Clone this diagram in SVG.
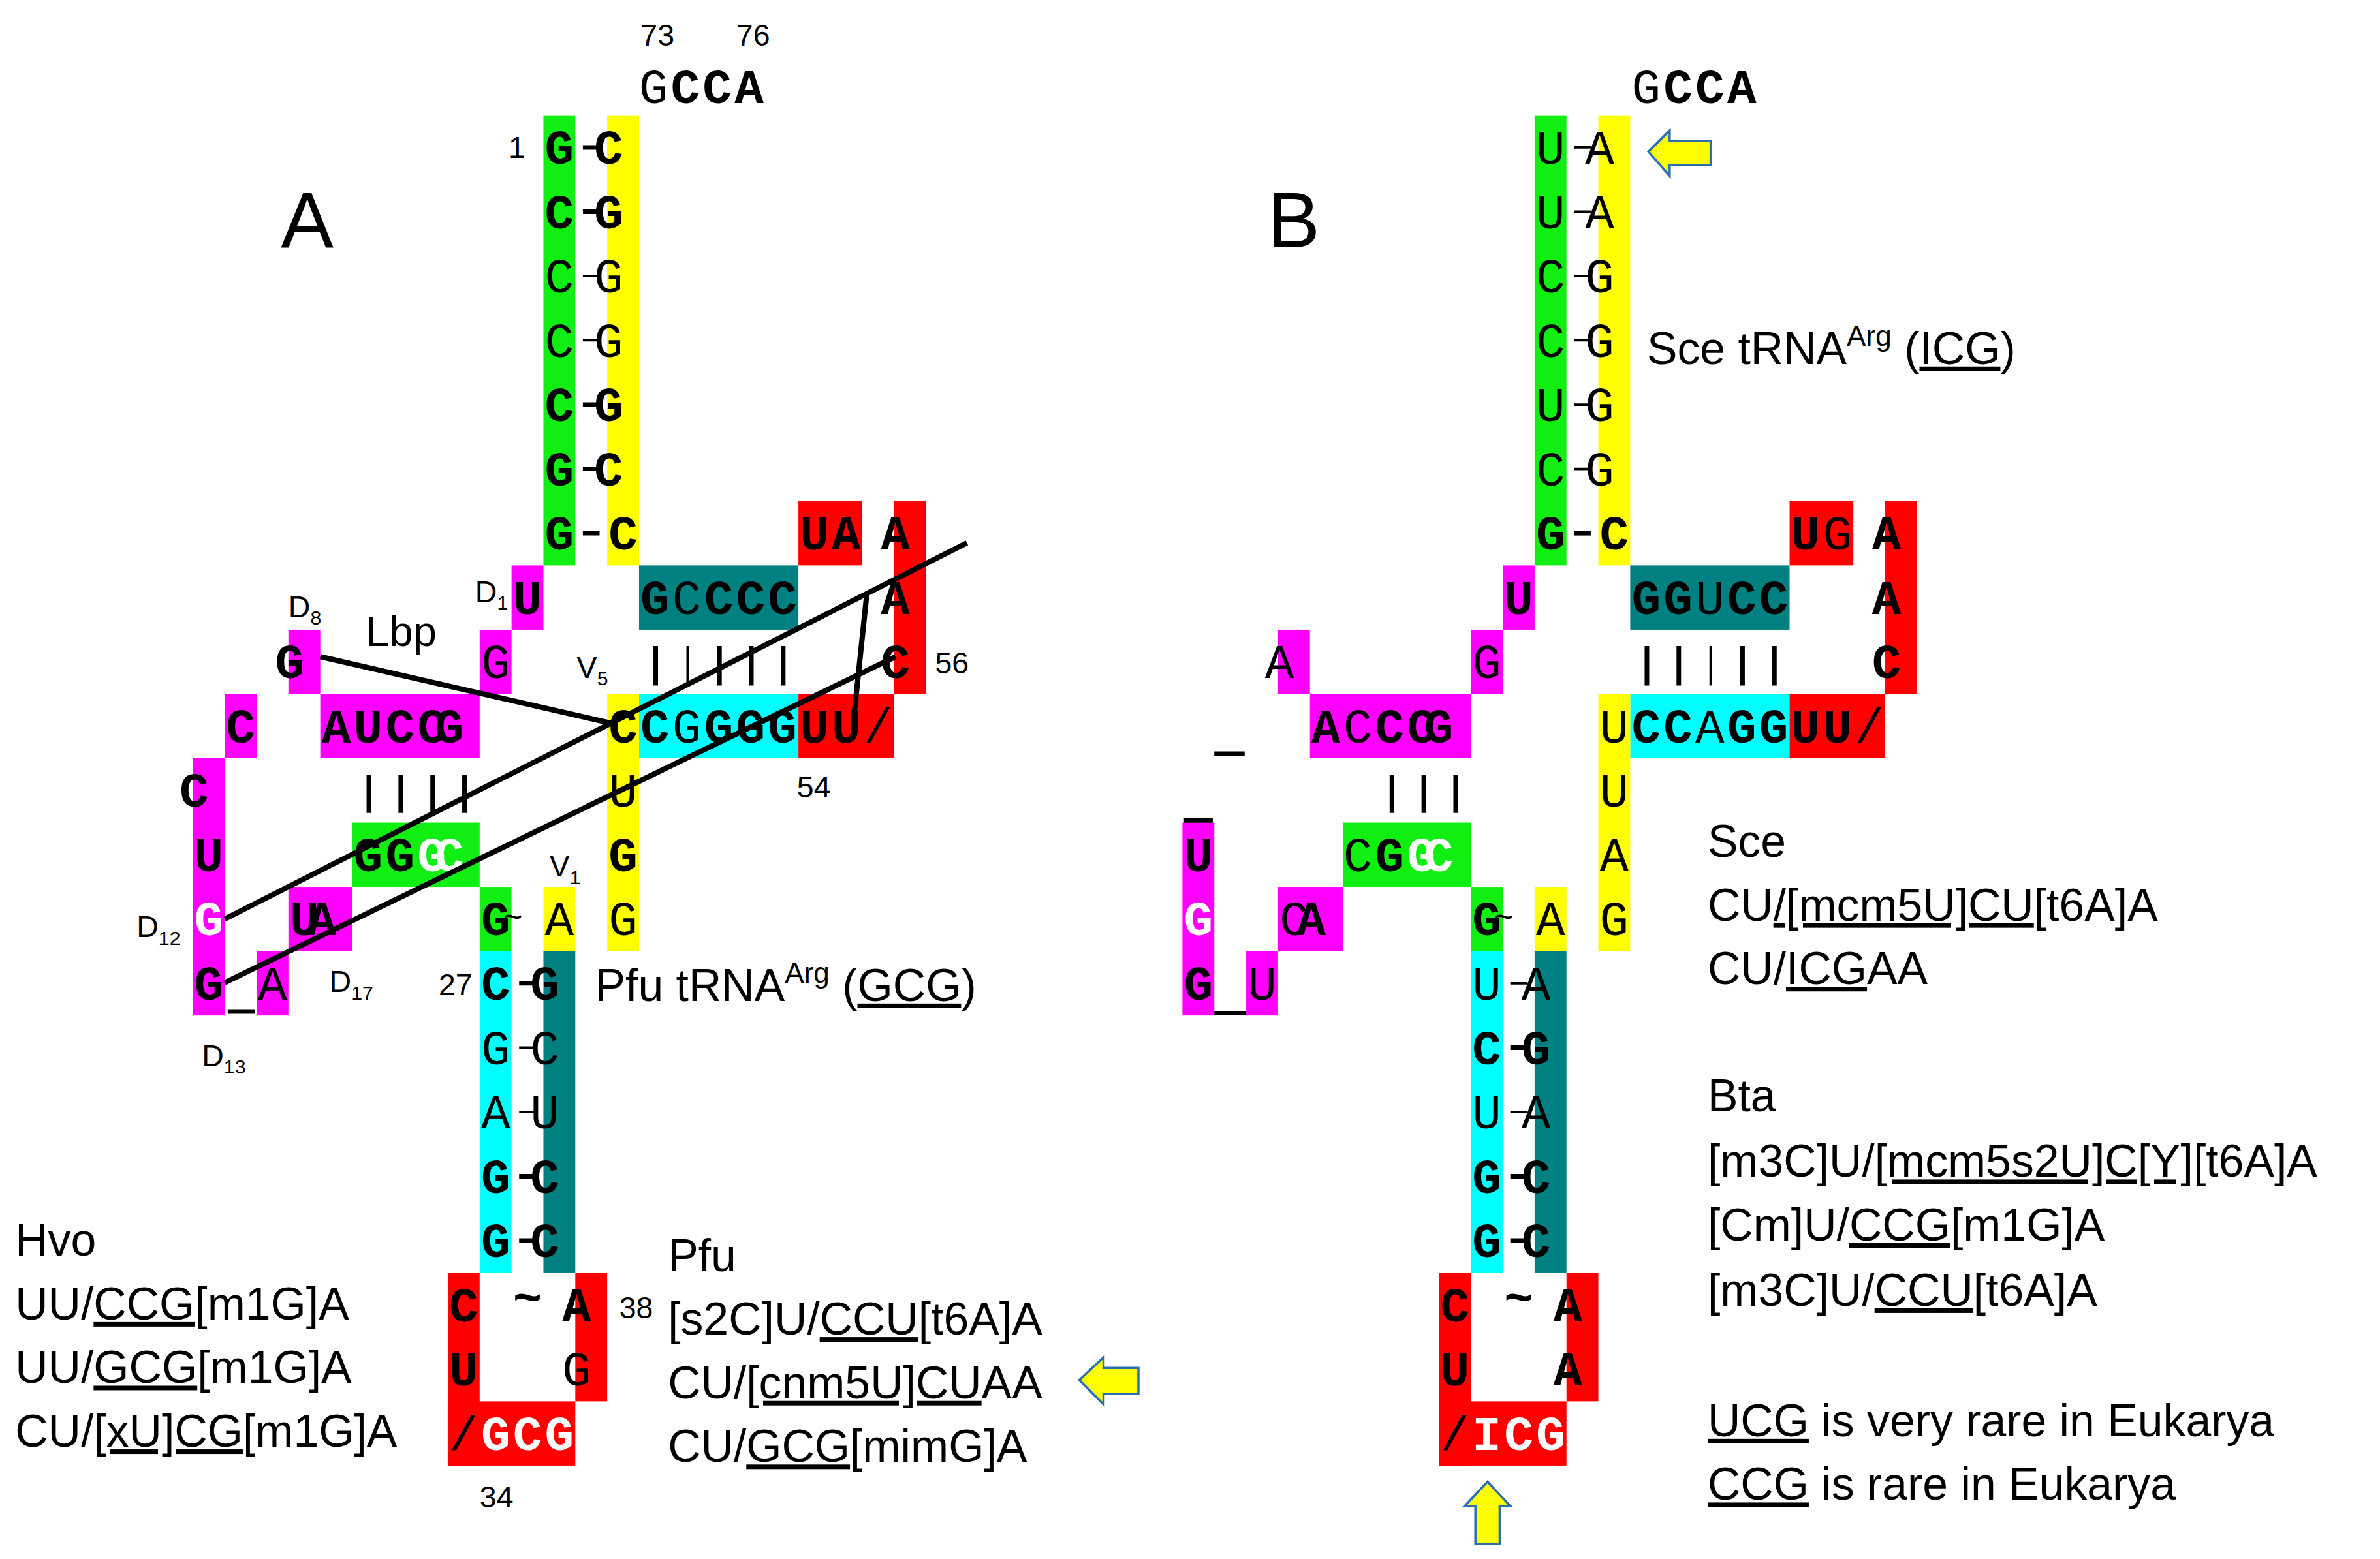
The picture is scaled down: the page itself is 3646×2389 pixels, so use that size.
<svg xmlns="http://www.w3.org/2000/svg" width="3646" height="2389" viewBox="0 0 3646 2389">
<style>
.m{font-family:"Liberation Mono","DejaVu Sans Mono",monospace;font-size:32px;text-anchor:middle}
.b{font-weight:bold;fill:#000}.t{font-weight:normal;fill:#000}.w{font-weight:bold;fill:#fff}
.s{font-family:"Liberation Sans Narrow","Liberation Sans",sans-serif;font-size:20px;fill:#000}
.sub{font-size:13px}
.L{font-family:"Liberation Sans",sans-serif;font-size:30px;fill:#000}
.u{text-decoration:underline}
.g{fill:#11ee11}.y{fill:#ffff00}.mg{fill:#ff00ff}.c{fill:#00ffff}.tl{fill:#008080}.r{fill:#ff0000}
.ln{stroke:#000;stroke-width:3.5;fill:none}
.d{stroke:#000;stroke-width:3}.dt{stroke:#000;stroke-width:1.6}
.arr{fill:#ffff00;stroke:#2a6fb0;stroke-width:1.5}
</style>
<rect width="3646" height="2389" fill="#fff"/>
<g transform="scale(2.3253,2.324)">
<g id="panelA">
<text x="185" y="163" class="L" style="font-size:52px">A</text>
<text class="s" x="422" y="30">73</text><text class="s" x="485" y="30">76</text>
<text class="m" y="68"><tspan class="t" x="430.5">G</tspan><tspan class="b" x="451.5">C</tspan><tspan class="b" x="472.5">C</tspan><tspan class="b" x="493.5">A</tspan></text>
<g id="A_acceptor">
<rect class="g" x="358" y="76" width="21" height="296.8"/><rect class="y" x="400" y="76" width="21" height="296.8"/>
<text class="s" x="335" y="104">1</text>
<text class="m"><tspan class="b" x="368.5" y="108">G</tspan><tspan class="b" x="410.5" y="108">C</tspan>
<tspan class="b" x="368.5" y="150.4">C</tspan><tspan class="b" x="410.5" y="150.4">G</tspan>
<tspan class="t" x="368.5" y="192.8">C</tspan><tspan class="t" x="410.5" y="192.8">G</tspan>
<tspan class="t" x="368.5" y="235.2">C</tspan><tspan class="t" x="410.5" y="235.2">G</tspan>
<tspan class="b" x="368.5" y="277.6">C</tspan><tspan class="b" x="410.5" y="277.6">G</tspan>
<tspan class="b" x="368.5" y="320">G</tspan><tspan class="b" x="410.5" y="320">C</tspan>
<tspan class="b" x="368.5" y="362.4">G</tspan><tspan class="b" x="410.5" y="362.4">C</tspan></text>
<path class="d" d="M384 97.2H395M384 139.6H395M384 266.8H395M384 309.2H395M384 351.6H395"/>
<path class="dt" d="M384 182H395M384 224.4H395"/>
</g>
<g id="A_Tarm">
<rect class="tl" x="421" y="372.8" width="105" height="42.4"/>
<rect class="c" x="421" y="457.6" width="105" height="42.4"/>
<rect class="r" x="526" y="330.4" width="42" height="42.4"/>
<rect class="r" x="589" y="330.4" width="21" height="127.2"/>
<rect class="r" x="526" y="457.6" width="63" height="42.4"/>
<text class="m"><tspan class="b" x="536.5" y="362.4">U</tspan><tspan class="b" x="557.5" y="362.4">A</tspan><tspan class="b" x="599.5" y="362.4">A</tspan>
<tspan class="b" x="431.5" y="404.8">G</tspan><tspan class="t" x="452.5" y="404.8">C</tspan><tspan class="b" x="473.5" y="404.8">C</tspan><tspan class="b" x="494.5" y="404.8">C</tspan><tspan class="b" x="515.5" y="404.8">C</tspan><tspan class="b" x="599.5" y="404.8">A</tspan>
<tspan class="b" x="599.5" y="447.2">C</tspan>
<tspan class="b" x="431.5" y="489.6">C</tspan><tspan class="t" x="452.5" y="489.6">G</tspan><tspan class="b" x="473.5" y="489.6">G</tspan><tspan class="b" x="494.5" y="489.6">G</tspan><tspan class="b" x="515.5" y="489.6">G</tspan><tspan class="b" x="536.5" y="489.6">U</tspan><tspan class="b" x="557.5" y="489.6">U</tspan><tspan class="t" x="578.5" y="489.6">/</tspan></text>
<path class="d" d="M432 426V452M474 426V452M495 426V452M516 426V452"/><path class="dt" d="M453 426V452"/>
<text class="s" x="616" y="444">56</text><text class="s" x="525" y="526">54</text>
</g>
<g id="A_Darm">
<rect class="mg" x="337" y="372.8" width="21" height="42.4"/>
<rect class="mg" x="316" y="415.2" width="21" height="42.4"/>
<rect class="mg" x="190" y="415.2" width="21" height="42.4"/>
<rect class="mg" x="148" y="457.6" width="21" height="42.4"/>
<rect class="mg" x="211" y="457.6" width="105" height="42.4"/>
<rect class="mg" x="127" y="500" width="21" height="169.6"/>
<rect class="g" x="232" y="542.4" width="84" height="42.4"/>
<rect class="mg" x="190" y="584.8" width="42" height="42.4"/>
<rect class="mg" x="169" y="627.2" width="21" height="42.4"/>
<text class="m"><tspan class="b" x="347.5" y="404.8">U</tspan><tspan class="t" x="326.5" y="447.2">G</tspan><tspan class="b" x="200.5" y="447.2">G</tspan>
<tspan class="b" x="158.5" y="489.6">C</tspan><tspan class="b" x="221.5" y="489.6">A</tspan><tspan class="b" x="242.5" y="489.6">U</tspan><tspan class="b" x="263.5" y="489.6">C</tspan><tspan class="b" x="284.5" y="489.6">C</tspan><tspan class="b" x="305.5" y="489.6">G</tspan>
<tspan class="b" x="137.5" y="532">C</tspan>
<tspan class="b" x="137.5" y="574.4">U</tspan><tspan class="b" x="242.5" y="574.4">G</tspan><tspan class="b" x="263.5" y="574.4">G</tspan><tspan class="w" x="284.5" y="574.4">G</tspan><tspan class="w" x="305.5" y="574.4">C</tspan>
<tspan class="w" x="137.5" y="616.8">G</tspan><tspan class="b" x="200.5" y="616.8">U</tspan><tspan class="b" x="221.5" y="616.8">A</tspan>
<tspan class="b" x="137.5" y="659.2">G</tspan><tspan class="t" x="179.5" y="659.2">A</tspan></text>
<path class="d" d="M243 511V536M264 511V536M285 511V536M306 511V536M150 667H168"/>
<text class="s" x="313" y="397">D<tspan class="sub" dy="5">1</tspan></text>
<text class="s" x="190" y="407">D<tspan class="sub" dy="5">8</tspan></text>
<text class="L" x="241" y="426" style="font-size:28px">Lbp</text>
<text class="s" x="90" y="618">D<tspan class="sub" dy="5">12</tspan></text>
<text class="s" x="217" y="654">D<tspan class="sub" dy="5">17</tspan></text>
<text class="s" x="133" y="703">D<tspan class="sub" dy="5">13</tspan></text>
</g>
<g id="A_Varm">
<rect class="y" x="400" y="457.6" width="21" height="169.6"/>
<rect class="y" x="358" y="584.8" width="21" height="42.4"/>
<text class="m"><tspan class="b" x="410.5" y="489.6">C</tspan><tspan class="t" x="410.5" y="532">U</tspan><tspan class="b" x="410.5" y="574.4">G</tspan><tspan class="t" x="410.5" y="616.8">G</tspan><tspan class="t" x="368.5" y="616.8">A</tspan></text>
<text class="s" x="380" y="447">V<tspan class="sub" dy="5">5</tspan></text>
<text class="s" x="362" y="578">V<tspan class="sub" dy="5">1</tspan></text>
</g>
<g id="A_anticodon">
<rect class="g" x="316" y="584.8" width="21" height="42.4"/>
<rect class="c" x="316" y="627.2" width="21" height="212"/>
<rect class="tl" x="358" y="627.2" width="21" height="212"/>
<rect class="r" x="295" y="839.2" width="21" height="127.2"/>
<rect class="r" x="295" y="924" width="84" height="42.4"/>
<rect class="r" x="379" y="839.2" width="21" height="84.8"/>
<text class="m"><tspan class="b" x="326.5" y="616.8">G</tspan><tspan class="t" x="347.5" y="612" style="font-size:22px">~</tspan>
<tspan class="b" x="326.5" y="659.2">C</tspan><tspan class="b" x="368.5" y="659.2">G</tspan>
<tspan class="t" x="326.5" y="701.6">G</tspan><tspan class="t" x="368.5" y="701.6">C</tspan>
<tspan class="t" x="326.5" y="744">A</tspan><tspan class="t" x="368.5" y="744">U</tspan>
<tspan class="b" x="326.5" y="786.4">G</tspan><tspan class="b" x="368.5" y="786.4">C</tspan>
<tspan class="b" x="326.5" y="828.8">G</tspan><tspan class="b" x="368.5" y="828.8">C</tspan>
<tspan class="b" x="305.5" y="871.2">C</tspan><tspan class="b" x="347.5" y="866">~</tspan><tspan class="b" x="389.5" y="871.2">A</tspan>
<tspan class="b" x="305.5" y="913.6">U</tspan><tspan class="t" x="389.5" y="913.6">G</tspan>
<tspan class="t" x="305.5" y="956">/</tspan><tspan class="w" x="326.5" y="956">G</tspan><tspan class="w" x="347.5" y="956">C</tspan><tspan class="w" x="368.5" y="956">G</tspan></text>
<path class="d" d="M342 648.4H353M342 775.6H353M342 818H353"/><path class="dt" d="M342 690.8H353M342 733.2H353"/>
<text class="s" x="289" y="656">27</text><text class="s" x="408" y="869">38</text><text class="s" x="316" y="994">34</text>
</g>
<g id="A_lines">
<path class="ln" d="M211 433L403 477M148 606L637 358M148 648L590 433M571 392L562 478"/>
</g>
<text class="L" x="392" y="660">Pfu tRNA<tspan dy="-12" style="font-size:19px">Arg</tspan><tspan dy="12"> (</tspan><tspan class="u">GCG</tspan>)</text>
<g id="A_hvo" class="L">
<text x="10" y="828">Hvo</text>
<text x="10" y="870">UU/<tspan class="u">CCG</tspan>[m1G]A</text>
<text x="10" y="912">UU/<tspan class="u">GCG</tspan>[m1G]A</text>
<text x="10" y="954">CU/<tspan class="u">[xU]CG</tspan>[m1G]A</text>
</g>
<g id="A_pfu" class="L">
<text x="440" y="838">Pfu</text>
<text x="440" y="880">[s2C]U/<tspan class="u">CCU</tspan>[t6A]A</text>
<text x="440" y="922">CU/<tspan class="u">[cnm5U]CU</tspan>AA</text>
<text x="440" y="964">CU/<tspan class="u">GCG</tspan>[mimG]A</text>
<polygon class="arr" points="711,910 727,895 727,902 750,902 750,919 727,919 727,926"/>
</g>
</g>
<g id="panelB">
<text x="835" y="163" class="L" style="font-size:52px">B</text>
<text class="m" y="68"><tspan class="t" x="1084.5">G</tspan><tspan class="b" x="1105.5">C</tspan><tspan class="b" x="1126.5">C</tspan><tspan class="b" x="1147.5">A</tspan></text>
<g id="B_acceptor">
<rect class="g" x="1011" y="76" width="21" height="296.8"/><rect class="y" x="1053" y="76" width="21" height="296.8"/>
<text class="m"><tspan class="t" x="1021.5" y="108">U</tspan><tspan class="t" x="1063.5" y="108">A</tspan>
<tspan class="t" x="1021.5" y="150.4">U</tspan><tspan class="t" x="1063.5" y="150.4">A</tspan>
<tspan class="t" x="1021.5" y="192.8">C</tspan><tspan class="t" x="1063.5" y="192.8">G</tspan>
<tspan class="t" x="1021.5" y="235.2">C</tspan><tspan class="t" x="1063.5" y="235.2">G</tspan>
<tspan class="t" x="1021.5" y="277.6">U</tspan><tspan class="t" x="1063.5" y="277.6">G</tspan>
<tspan class="t" x="1021.5" y="320">C</tspan><tspan class="t" x="1063.5" y="320">G</tspan>
<tspan class="b" x="1021.5" y="362.4">G</tspan><tspan class="b" x="1063.5" y="362.4">C</tspan></text>
<path class="dt" d="M1037 97.2H1048M1037 139.6H1048M1037 182H1048M1037 224.4H1048M1037 266.8H1048M1037 309.2H1048"/>
<path class="d" d="M1037 351.6H1048"/>
<polygon class="arr" points="1086,100 1100,86 1100,93 1127,93 1127,109 1100,109 1100,116"/>
</g>
<text class="L" x="1085" y="240">Sce tRNA<tspan dy="-12" style="font-size:19px">Arg</tspan><tspan dy="12"> (</tspan><tspan class="u">ICG</tspan>)</text>
<g id="B_Tarm">
<rect class="tl" x="1074" y="372.8" width="105" height="42.4"/>
<rect class="c" x="1074" y="457.6" width="105" height="42.4"/>
<rect class="r" x="1179" y="330.4" width="42" height="42.4"/>
<rect class="r" x="1242" y="330.4" width="21" height="127.2"/>
<rect class="r" x="1179" y="457.6" width="63" height="42.4"/>
<text class="m"><tspan class="b" x="1189.5" y="362.4">U</tspan><tspan class="t" x="1210.5" y="362.4">G</tspan><tspan class="b" x="1252.5" y="362.4">A</tspan>
<tspan class="b" x="1084.5" y="404.8">G</tspan><tspan class="b" x="1105.5" y="404.8">G</tspan><tspan class="t" x="1126.5" y="404.8">U</tspan><tspan class="b" x="1147.5" y="404.8">C</tspan><tspan class="b" x="1168.5" y="404.8">C</tspan><tspan class="b" x="1252.5" y="404.8">A</tspan>
<tspan class="b" x="1252.5" y="447.2">C</tspan>
<tspan class="b" x="1084.5" y="489.6">C</tspan><tspan class="b" x="1105.5" y="489.6">C</tspan><tspan class="t" x="1126.5" y="489.6">A</tspan><tspan class="b" x="1147.5" y="489.6">G</tspan><tspan class="b" x="1168.5" y="489.6">G</tspan><tspan class="b" x="1189.5" y="489.6">U</tspan><tspan class="b" x="1210.5" y="489.6">U</tspan><tspan class="t" x="1231.5" y="489.6">/</tspan></text>
<path class="d" d="M1085 426V452M1106 426V452M1148 426V452M1169 426V452"/><path class="dt" d="M1127 426V452"/>
</g>
<g id="B_Darm">
<rect class="mg" x="990" y="372.8" width="21" height="42.4"/>
<rect class="mg" x="969" y="415.2" width="21" height="42.4"/>
<rect class="mg" x="842" y="415.2" width="21" height="42.4"/>
<rect class="mg" x="863" y="457.6" width="106" height="42.4"/>
<rect class="mg" x="779" y="542.4" width="21" height="127.2"/>
<rect class="g" x="885" y="542.4" width="84" height="42.4"/>
<rect class="mg" x="842" y="584.8" width="43" height="42.4"/>
<rect class="mg" x="821" y="627.2" width="21" height="42.4"/>
<text class="m"><tspan class="b" x="1000.5" y="404.8">U</tspan><tspan class="t" x="979.5" y="447.2">G</tspan><tspan class="t" x="852.5" y="447.2">A</tspan>
<tspan class="b" x="873.5" y="489.6">A</tspan><tspan class="t" x="894.5" y="489.6">C</tspan><tspan class="b" x="915.5" y="489.6">C</tspan><tspan class="b" x="936.5" y="489.6">C</tspan><tspan class="b" x="957.5" y="489.6">G</tspan>
<tspan class="b" x="789.5" y="574.4">U</tspan><tspan class="t" x="894.5" y="574.4">C</tspan><tspan class="b" x="915.5" y="574.4">G</tspan><tspan class="w" x="936.5" y="574.4">G</tspan><tspan class="w" x="957.5" y="574.4">C</tspan>
<tspan class="w" x="789.5" y="616.8">G</tspan><tspan class="t" x="852.5" y="616.8">C</tspan><tspan class="b" x="873.5" y="616.8">A</tspan>
<tspan class="b" x="789.5" y="659.2">G</tspan><tspan class="t" x="831.5" y="659.2">U</tspan></text>
<path class="d" d="M917 511V536M938 511V536M959 511V536M800 497H820M780 541H799M800 668H821"/>
</g>
<g id="B_Varm">
<rect class="y" x="1053" y="457.6" width="21" height="169.6"/>
<rect class="y" x="1011" y="584.8" width="21" height="42.4"/>
<text class="m"><tspan class="t" x="1063.5" y="489.6">U</tspan><tspan class="t" x="1063.5" y="532">U</tspan><tspan class="t" x="1063.5" y="574.4">A</tspan><tspan class="t" x="1063.5" y="616.8">G</tspan><tspan class="t" x="1021.5" y="616.8">A</tspan></text>
</g>
<g id="B_anticodon">
<rect class="g" x="969" y="584.8" width="21" height="42.4"/>
<rect class="c" x="969" y="627.2" width="21" height="212"/>
<rect class="tl" x="1011" y="627.2" width="21" height="212"/>
<rect class="r" x="948" y="839.2" width="21" height="127.2"/>
<rect class="r" x="948" y="924" width="84" height="42.4"/>
<rect class="r" x="1032" y="839.2" width="21" height="84.8"/>
<text class="m"><tspan class="b" x="979.5" y="616.8">G</tspan><tspan class="t" x="1000.5" y="612" style="font-size:22px">~</tspan>
<tspan class="t" x="979.5" y="659.2">U</tspan><tspan class="t" x="1021.5" y="659.2">A</tspan>
<tspan class="b" x="979.5" y="701.6">C</tspan><tspan class="b" x="1021.5" y="701.6">G</tspan>
<tspan class="t" x="979.5" y="744">U</tspan><tspan class="t" x="1021.5" y="744">A</tspan>
<tspan class="b" x="979.5" y="786.4">G</tspan><tspan class="b" x="1021.5" y="786.4">C</tspan>
<tspan class="b" x="979.5" y="828.8">G</tspan><tspan class="b" x="1021.5" y="828.8">C</tspan>
<tspan class="b" x="958.5" y="871.2">C</tspan><tspan class="b" x="1000.5" y="866">~</tspan><tspan class="b" x="1042.5" y="871.2">A</tspan>
<tspan class="b" x="958.5" y="913.6">U</tspan><tspan class="b" x="1042.5" y="913.6">A</tspan>
<tspan class="t" x="958.5" y="956">/</tspan><tspan class="w" x="979.5" y="956">I</tspan><tspan class="w" x="1000.5" y="956">C</tspan><tspan class="w" x="1021.5" y="956">G</tspan></text>
<path class="dt" d="M995 648.4H1006M995 733.2H1006"/><path class="d" d="M995 690.8H1006M995 775.6H1006M995 818H1006"/>
<polygon class="arr" points="980,977 995,993 988,993 988,1018 972,1018 972,993 965,993"/>
</g>
<g id="B_text" class="L">
<text x="1125" y="565">Sce</text>
<text x="1125" y="607">CU<tspan class="u">/[mcm5U]CU</tspan>[t6A]A</text>
<text x="1125" y="649">CU/<tspan class="u">ICG</tspan>AA</text>
<text x="1125" y="733">Bta</text>
<text x="1125" y="776">[m3C]U/<tspan class="u">[mcm5s2U]C[Y]</tspan>[t6A]A</text>
<text x="1125" y="818">[Cm]U/<tspan class="u">CCG</tspan>[m1G]A</text>
<text x="1125" y="861">[m3C]U/<tspan class="u">CCU</tspan>[t6A]A</text>
<text x="1125" y="947"><tspan class="u">UCG</tspan> is very rare in Eukarya</text>
<text x="1125" y="989"><tspan class="u">CCG</tspan> is rare in Eukarya</text>
</g>
</g>
</g>
</svg>
